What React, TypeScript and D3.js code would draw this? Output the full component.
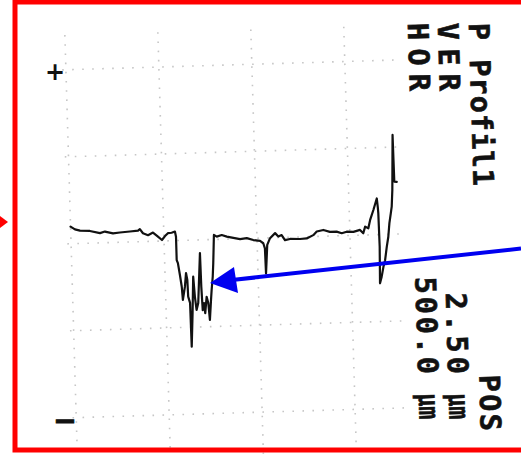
import React from "react";
import * as d3 from "d3";

// Profilometer trace (HOR: 500 µm / div, VER: 2.50 µm / div)
const xTicks = [0, 500, 1000, 1500];
const yTicks = [-5, -2.5, 0, 2.5, 5];
const xExtent = [-20, 1770];
const yExtent = [-6.2, 6];

const profileX = [
  0, 23, 50, 103, 157, 184, 227, 264, 318, 362,
  372, 388, 415, 442, 468, 489, 506, 522, 542, 560,
  565, 565, 571, 580, 588, 592, 605, 613, 619, 621,
  630, 632, 642, 651, 657, 664, 674, 691, 693, 697,
  705, 710, 720, 728, 734, 743, 748, 756, 761, 769,
  784, 811, 838, 873, 909, 945, 980, 1016, 1033, 1041,
  1043, 1054, 1070, 1098, 1115, 1133, 1150, 1177, 1231, 1267,
  1303, 1322, 1358, 1393, 1429, 1456, 1483, 1519, 1555, 1572,
  1583, 1600, 1611, 1630, 1650, 1654, 1656, 1658, 1654, 1664,
  1675, 1685, 1696, 1706, 1714, 1723, 1729, 1735, 1745, 1746,
  1747, 1760,
];
const profileY = [
  0.49, 0.41, 0.37, 0.35, 0.28, 0.32, 0.26, 0.28, 0.3, 0.32,
  0.36, 0.24, 0.18, 0.25, 0.13, 0.03, 0.14, 0.22, 0.23, 0.26,
  0.11, -0.56, -0.65, -0.99, -1.33, -1.71, -1.33, -0.94, -1.14, -1.62,
  -1.8, -3.06, -2.09, -1.05, -1.63, -2.01, -1.81, -0.38, -1.35, -2.02,
  -1.82, -2.11, -1.64, -1.82, -2.31, -1.74, -1.45, -1.07, -0.68, 0.13,
  0.08, 0.12, 0.07, 0.03, -0.01, 0.01, -0.05, -0.08, -0.15, -0.3,
  -1.02, -0.2, -0.01, 0.13, 0.03, 0.07, -0.08, -0.05, -0.06, -0.05,
  0.04, 0.14, 0.18, 0.12, 0.12, 0.07, 0.11, 0.1, 0.15, 0.05,
  0.24, 0.19, 0.43, 0.71, 1.04, 0.8, 0.61, -0.35, -1.4, -1.21,
  -0.93, -0.74, -0.36, -0.07, 0.32, 0.6, 0.79, 1.27, 2.85, 2.13,
  1.51, 1.5,
];

const headerLine1 = ["P Profil1", "POS"];
const headerLine2 = ["VER", "2.50", "µm"];
const headerLine3 = ["HOR", "500.0", "µm"];

export default function App() {
  const W = 521;
  const H = 454;
  const x = d3.scaleLinear().domain([0, 1500]).range([71, 350]);
  const y = d3.scaleLinear().domain([-5, 5]).range([413, 65]);
  const pts: [number, number][] = profileX.map((v, i) => [v, profileY[i]]);
  const line = d3
    .line<[number, number]>()
    .x((d) => x(d[0]))
    .y((d) => y(d[1]));

  const font = "'DejaVu Sans Mono', 'Liberation Mono', monospace";
  const textStyle = {
    fontFamily: font,
    fontWeight: 700,
    fontSize: 28.5,
    fill: "#111",
    stroke: "#111",
    strokeWidth: 0.6,
  };

  const rotText = (
    s: string,
    bx: number,
    by: number,
    len: number,
    key: string,
    squeeze = false
  ) => (
    <text
      key={key}
      transform={`translate(${bx},${by}) rotate(90)`}
      textLength={len}
      lengthAdjust={squeeze ? "spacingAndGlyphs" : "spacing"}
      style={textStyle}
    >
      {s}
    </text>
  );

  return (
    <svg
      width={W}
      height={H}
      viewBox={`0 0 ${W} ${H}`}
      style={{ position: "absolute", left: 0, top: 0, background: "#fff" }}
    >
      <rect x={0} y={0} width={W} height={H} fill="#fff" />
      <g transform="rotate(-1.7, 230, 239)">
        {yTicks.map((t) => (
          <line
            key={"h" + t}
            x1={x(xExtent[0])}
            x2={x(xExtent[1])}
            y1={y(t)}
            y2={y(t)}
            stroke="#c6c6c6"
            strokeWidth={1.6}
            strokeDasharray="1.6 8.4"
          />
        ))}
        {xTicks.map((t) => (
          <line
            key={"v" + t}
            x1={x(t)}
            x2={x(t)}
            y1={y(yExtent[1])}
            y2={y(yExtent[0])}
            stroke="#c6c6c6"
            strokeWidth={1.6}
            strokeDasharray="1.6 7.6"
          />
        ))}
        <path
          d={line(pts) || ""}
          fill="none"
          stroke="#111"
          strokeWidth={2.2}
          strokeLinejoin="round"
          strokeLinecap="round"
        />
        {rotText(headerLine1[0], 475, 30.4, 163, "l1a")}
        {rotText(headerLine1[1], 475, 382.4, 56, "l1b")}
        {rotText(headerLine2[0], 444, 29.5, 68, "l2a")}
        {rotText(headerLine2[1], 444, 299.5, 81, "l2b")}
        {rotText(headerLine2[2], 444, 400, 26, "l2c", true)}
        {rotText(headerLine3[0], 414, 28.6, 68, "l3a")}
        {rotText(headerLine3[1], 414, 282.6, 97, "l3b")}
        {rotText(headerLine3[2], 414, 399, 26, "l3c", true)}
      </g>
      <text
        x={55}
        y={80}
        textAnchor="middle"
        style={{ fontFamily: "'DejaVu Sans', sans-serif", fontWeight: 700, fontSize: 24, fill: "#111" }}
      >
        +
      </text>
      <text
        x={65}
        y={430}
        textAnchor="middle"
        style={{ fontFamily: "'DejaVu Sans', sans-serif", fontWeight: 700, fontSize: 28, fill: "#111", stroke: "#111", strokeWidth: 1 }}
      >
        −
      </text>
      {/* blue arrow */}
      <line x1={521} y1={248.5} x2={232} y2={280} stroke="#0000f0" strokeWidth={4} />
      <polygon points="210,283 234,267 238,293" fill="#0000f0" />
      {/* red border and arrow tip */}
      <rect x={15} y={2} width={530} height={448} fill="none" stroke="#ff0000" strokeWidth={5} />
      <polygon points="0,216 8,222 0,228" fill="#ff0000" />
    </svg>
  );
}
